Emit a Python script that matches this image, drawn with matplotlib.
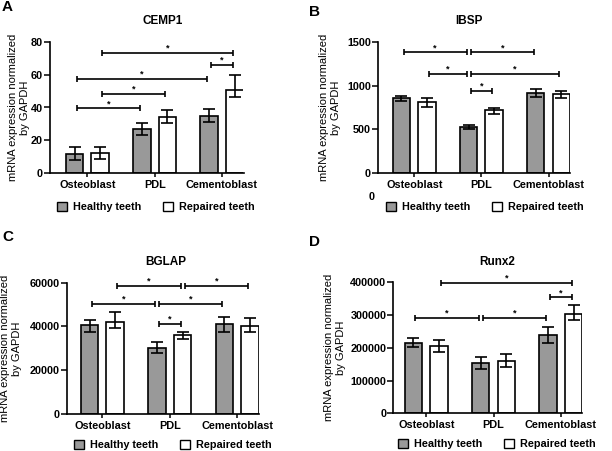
import matplotlib
matplotlib.use("Agg")
import matplotlib.pyplot as plt
import matplotlib.patches as mpatches
from matplotlib.transforms import ScaledTranslation

plt.rcParams['font.family'] = ['Liberation Sans', 'DejaVu Sans']

cells = ["Osteoblast", "PDL", "Cementoblast"]
legend_labels = ["Healthy teeth", "Repaired teeth"]

# CEMP1
cemp1_healthy = [11.4, 26.9, 35.0]
cemp1_healthy_err = [[3.5, 3.7, 3.6], [4.7, 3.8, 4.1]]
cemp1_repaired = [12.4, 34.4, 50.9]
cemp1_repaired_err = [[4.1, 3.7, 4.3], [3.7, 4.1, 9.0]]
cemp1_sig = [(1, 5, 73.5), (4, 5, 66.0), (0, 4, 57.4), (1, 3, 48.3), (0, 2, 39.5)]

# IBSP
ibsp_healthy = [857, 528, 914]
ibsp_healthy_err = [[27, 23, 45], [31, 23, 46]]
ibsp_repaired = [819, 719, 903]
ibsp_repaired_err = [[61, 38, 38], [46, 31, 38]]
ibsp_sig = [(0, 2, 1385), (2, 4, 1385), (1, 2, 1136), (2, 5, 1136), (2, 3, 944)]

# BGLAP
bglap_healthy = [40660, 30150, 40970]
bglap_healthy_err = [[3360, 2430, 3660], [2290, 2590, 3500]]
bglap_repaired = [42190, 35940, 40360]
bglap_repaired_err = [[3050, 1830, 2740], [4260, 1680, 3350]]
bglap_sig = [(1, 3, 58480), (3, 5, 58480), (0, 2, 50410), (2, 4, 50410), (2, 3, 41120)]

# Runx2
runx2_healthy = [215800, 154700, 239200]
runx2_healthy_err = [[13300, 18300, 25500], [13200, 16300, 25400]]
runx2_repaired = [206600, 160800, 303300]
runx2_repaired_err = [[18300, 18300, 18300], [18400, 19200, 27500]]
runx2_sig = [(1, 5, 399000), (4, 5, 354200), (0, 2, 292100), (2, 4, 292100)]

W, H = 612, 451
fig = plt.figure(figsize=(W / 100, H / 100), dpi=100)

gray = '#999999'
off = 0.19
bw = 0.26


def px_rect(left, bottom, width, height):
    return [left / W, (H - bottom) / H, width / W, height / H]


def draw_panel(rect, xleft, healthy, h_err, repaired, r_err, sig, yticks,
               title, title_xy, letter, letter_xy, ylab_x, legend_xy):
    ax = fig.add_axes(px_rect(*rect))
    x = list(range(len(cells)))
    xh = [i - off for i in x]
    xr = [i + off for i in x]
    ax.bar(xh, healthy, bw, color=gray, edgecolor='black', linewidth=1.2, zorder=2)
    ax.bar(xr, repaired, bw, color='white', edgecolor='black', linewidth=1.2, zorder=2)
    ax.errorbar(xh, healthy, yerr=h_err, fmt='none', ecolor='black',
                elinewidth=1.2, capsize=4, capthick=1.2, zorder=3)
    ax.errorbar(xr, repaired, yerr=r_err, fmt='none', ecolor='black',
                elinewidth=1.2, capsize=4, capthick=1.2, zorder=3)

    pos = []
    for i in x:
        pos += [xh[i], xr[i]]
    for a, b, y in sig:
        x1, x2 = pos[a] + 0.03, pos[b] - 0.03
        ax.errorbar((x1 + x2) / 2, y, xerr=(x2 - x1) / 2, fmt='none',
                    ecolor='black', elinewidth=1.2, capsize=2.5, capthick=1.2,
                    clip_on=False)
        ax.annotate('*', ((x1 + x2) / 2, y), xytext=(0, 0),
                    textcoords='offset points', ha='center', va='bottom',
                    fontsize=6.5, fontweight='bold')

    ax.set_xlim(xleft, 2 + off + bw / 2)
    ax.set_ylim(yticks[0], yticks[-1])
    ax.set_yticks(yticks)
    ax.set_yticklabels([str(t) for t in yticks], fontsize=7.8, fontweight='bold')
    ax.set_xticks(x)
    ax.set_xticklabels(cells, fontsize=7.8, fontweight='bold')
    for lab, dx in zip(ax.get_xticklabels(), [5, -1.5, 10]):
        lab.set_transform(lab.get_transform() +
                          ScaledTranslation(dx / 100, 0, fig.dpi_scale_trans))
    ax.tick_params(axis='y', length=4, width=1.1, pad=1)
    ax.tick_params(axis='x', length=3, width=1.1, pad=2)
    for s in ['top', 'right']:
        ax.spines[s].set_visible(False)
    for s in ['left', 'bottom']:
        ax.spines[s].set_linewidth(1.2)

    ax.set_ylabel('mRNA expression normalized\nby GAPDH', fontsize=8,
                  va='center', linespacing=1.25)
    ax.yaxis.set_label_coords(ylab_x, 0.5)

    fig.text(title_xy[0] / W, 1 - title_xy[1] / H, title, ha='center',
             va='center', fontsize=8.5, fontweight='bold')
    fig.text(letter_xy[0] / W, 1 - letter_xy[1] / H, letter, ha='left',
             va='center', fontsize=11, fontweight='bold')

    handles = [mpatches.Patch(facecolor=gray, edgecolor='black', linewidth=1.0),
               mpatches.Patch(facecolor='white', edgecolor='black', linewidth=1.0)]
    fig.legend(handles, legend_labels, loc='center',
               bbox_to_anchor=(legend_xy[0] / W, 1 - legend_xy[1] / H),
               ncol=2, frameon=False, handlelength=0.95, handleheight=0.9,
               handletextpad=0.55, columnspacing=2.0,
               prop={'size': 7.8, 'weight': 'bold'})
    return ax


draw_panel((50, 173, 193.5, 131), -0.556, cemp1_healthy, cemp1_healthy_err,
           cemp1_repaired, cemp1_repaired_err, cemp1_sig, [0, 20, 40, 60, 80],
           'CEMP1', (163, 21), 'A', (2, 7), -0.16, (156, 207))
draw_panel((378, 173, 192, 130.7), -0.54, ibsp_healthy, ibsp_healthy_err,
           ibsp_repaired, ibsp_repaired_err, ibsp_sig, [0, 500, 1000, 1500],
           'IBSP', (469, 21), 'B', (309, 12), -0.25, (485, 207))
draw_panel((66.7, 414, 192, 131.3), -0.53, bglap_healthy, bglap_healthy_err,
           bglap_repaired, bglap_repaired_err, bglap_sig,
           [0, 20000, 40000, 60000],
           'BGLAP', (166, 262), 'C', (2, 237), -0.29, (173, 445))
draw_panel((393.3, 413.3, 189, 131), -0.49, runx2_healthy, runx2_healthy_err,
           runx2_repaired, runx2_repaired_err, runx2_sig,
           [0, 100000, 200000, 300000, 400000],
           'Runx2', (497, 262), 'D', (309, 242), -0.31, (497, 444))

fig.text(372 / W, 1 - 197 / H, '0', ha='center', va='center',
         fontsize=7.8, fontweight='bold')

fig.savefig('out.png', dpi=100)
